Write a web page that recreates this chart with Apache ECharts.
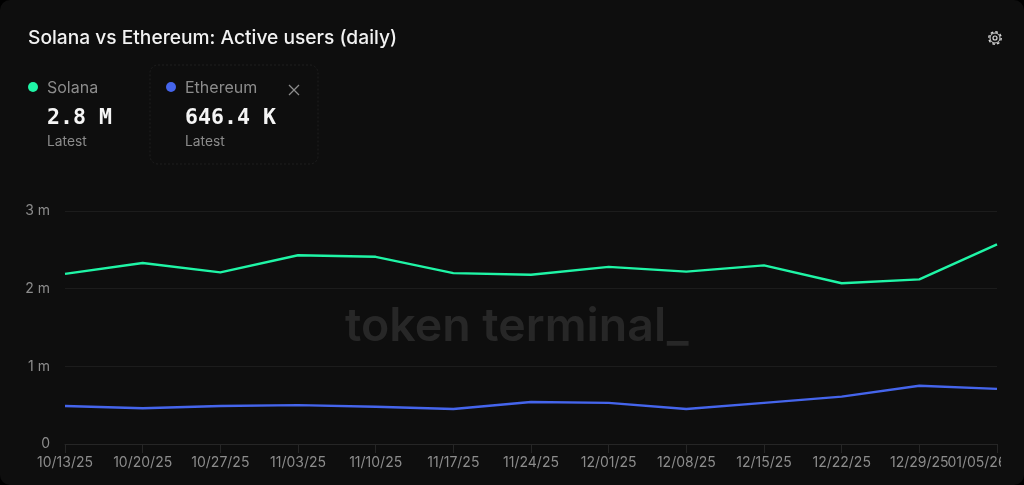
<!DOCTYPE html>
<html>
<head>
<meta charset="utf-8">
<style>
  html, body { margin: 0; padding: 0; background: #000; }
  #chart { width: 1024px; height: 485px; }
</style>
<script src="https://cdn.jsdelivr.net/npm/echarts@6/dist/echarts.min.js"></script>
</head>
<body>
<div id="chart"></div>
<script>
var titleText = 'Solana vs Ethereum: Active users (daily)';
var dates = ['10/13/25', '10/20/25', '10/27/25', '11/03/25', '11/10/25', '11/17/25', '11/24/25', '12/01/25', '12/08/25', '12/15/25', '12/22/25', '12/29/25', '01/05/26'];
var solana = [2.19, 2.33, 2.21, 2.43, 2.41, 2.20, 2.18, 2.28, 2.22, 2.30, 2.07, 2.12, 2.57];
var ethereum = [0.49, 0.46, 0.49, 0.50, 0.48, 0.45, 0.54, 0.53, 0.45, 0.53, 0.61, 0.75, 0.71];
var yTicks = ['0', '1 m', '2 m', '3 m'];

var bg = '#0e0e0e';
var green = '#1ff5a6';
var blue = '#4565ec';
var grey = '#8c8c8c';
var sans = 'Inter';
var mono = '"DejaVu Sans Mono"';

var myChart = echarts.init(document.getElementById('chart'), null, { renderer: 'canvas' });

function label(x, y, text, size, color, family, weight) {
    return {
        type: 'text', x: x, y: y, z: 10,
        style: { text: text, fontSize: size, fill: color, fontFamily: family || sans, fontWeight: weight || 400, textVerticalAlign: 'middle' }
    };
}

// the last date label sits left of its tick in the source, padding pushes it over
var xData = dates.map(function (d, i) {
    if (i === dates.length - 1) {
        return { value: d, textStyle: { padding: [0, 40, 0, 0] } };
    }
    return d;
});

var option = {
    backgroundColor: '#000',
    animation: false,
    grid: { left: 65, right: 27, top: 211, bottom: 41, containLabel: false, outerBoundsMode: 'none' },
    xAxis: {
        type: 'category',
        data: xData,
        boundaryGap: false,
        axisLine: { lineStyle: { color: '#262626' } },
        axisTick: { show: true, length: 9, alignWithLabel: true, lineStyle: { color: '#262626' } },
        axisLabel: { color: grey, fontFamily: sans, fontSize: 14, margin: 12, interval: 0, hideOverlap: false, showMinLabel: true, showMaxLabel: true },
        splitLine: { show: false }
    },
    yAxis: {
        type: 'value',
        min: 0,
        max: 3,
        interval: 1,
        axisLine: { show: false },
        axisTick: { show: false },
        axisLabel: {
            color: grey, fontFamily: sans, fontSize: 14, margin: 15,
            formatter: function (v) { return yTicks[v]; }
        },
        splitLine: { lineStyle: { color: '#1c1c1c' } }
    },
    series: [
        { name: 'Solana', type: 'line', data: solana, symbol: 'none', z: 3, lineStyle: { color: green, width: 2.4 } },
        { name: 'Ethereum', type: 'line', data: ethereum, symbol: 'none', z: 3, lineStyle: { color: blue, width: 2.4 } }
    ],
    graphic: [
        // card background, under the grid
        { type: 'rect', z: -10, silent: true, shape: { x: 0, y: 0, width: 1024, height: 485, r: 10 }, style: { fill: bg } },
        // watermark
        { type: 'text', x: 345, y: 327, z: -5, style: { text: 'token terminal_', fontSize: 46.5, fill: '#272727', fontFamily: 'Inter', fontWeight: 600, textVerticalAlign: 'middle' } },
        label(28, 38, titleText, 19.2, '#f2f2f2', sans, 500),
        // Ethereum selected box
        { type: 'rect', z: 5, shape: { x: 150, y: 65, width: 168, height: 99, r: 8 }, style: { fill: 'none', stroke: '#1e1e1e', lineWidth: 1, lineDash: [2, 2] } },
        { type: 'circle', z: 10, shape: { cx: 33, cy: 87, r: 5 }, style: { fill: green } },
        label(47, 88, 'Solana', 16, grey),
        label(47, 118, '2.8 M', 21.6, '#f5f5f5', mono, 700),
        label(47, 142, 'Latest', 13.8, grey),
        { type: 'circle', z: 10, shape: { cx: 171, cy: 87, r: 5 }, style: { fill: blue } },
        label(185, 88, 'Ethereum', 16, grey),
        label(185, 118, '646.4 K', 21.6, '#f5f5f5', mono, 700),
        label(185, 142, 'Latest', 13.8, grey),
        // close cross
        { type: 'line', z: 10, shape: { x1: 289, y1: 85, x2: 299, y2: 95 }, style: { stroke: grey, lineWidth: 1.2 } },
        { type: 'line', z: 10, shape: { x1: 299, y1: 85, x2: 289, y2: 95 }, style: { stroke: grey, lineWidth: 1.2 } },
        // settings gear
        { type: 'circle', z: 10, shape: { cx: 995, cy: 38, r: 6.2 }, style: { fill: 'none', stroke: '#d8d8d8', lineWidth: 1.4, lineDash: [2.6, 2.2] } },
        { type: 'circle', z: 10, shape: { cx: 995, cy: 38, r: 5 }, style: { fill: 'none', stroke: '#d8d8d8', lineWidth: 1 } },
        { type: 'circle', z: 10, shape: { cx: 995, cy: 38, r: 2 }, style: { fill: 'none', stroke: '#d8d8d8', lineWidth: 1.2 } },
        // last tick label is cut off at the plot edge in the source
        { type: 'rect', z: 100, silent: true, shape: { x: 1001, y: 450, width: 23, height: 25 }, style: { fill: bg } }
    ]
};

myChart.setOption(option);
window.addEventListener('resize', function () {
    myChart.resize();
});
</script>
</body>
</html>
